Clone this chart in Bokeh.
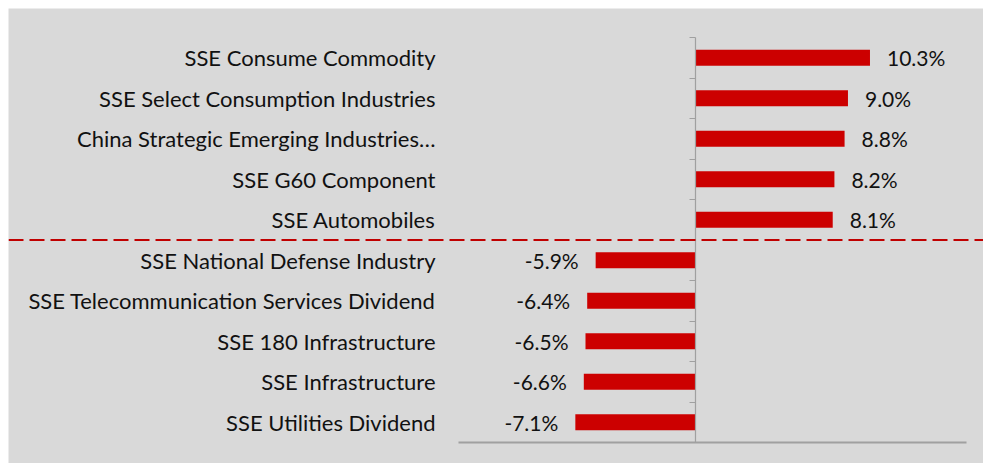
from bokeh.plotting import figure
from bokeh.models import ColumnDataSource, Span, LinearAxis, FixedTicker, Range1d
from bokeh.core.properties import value
from bokeh.embed import file_html
from bokeh.resources import INLINE

categories = [
    "SSE Consume Commodity",
    "SSE Select Consumption Industries",
    "China Strategic Emerging Industries\u2026",
    "SSE G60 Component",
    "SSE Automobiles",
    "SSE National Defense Industry",
    "SSE Telecommunication Services Dividend",
    "SSE 180 Infrastructure",
    "SSE Infrastructure",
    "SSE Utilities Dividend",
]
values = [10.3, 9.0, 8.8, 8.2, 8.1, -5.9, -6.4, -6.5, -6.6, -7.1]
value_labels = [f"{v:.1f}%" for v in values]
n_top = 5  # dashed divider after the first five (gainers)

# layout constants (pixels)
W, H = 983, 463
PAD = 8                            # white margin at top/left
FW, FH = W - PAD, H - PAD          # gray frame size
AX_MIN, AX_MAX = -14, 16           # visible value axis span
AX_LEFT_PX, AX_RIGHT_PX = 450, 958 # within the frame
TOP_PX, BOT_PX = 29, 21            # category block inset (top, bottom)

ppu = (AX_RIGHT_PX - AX_LEFT_PX) / (AX_MAX - AX_MIN)
x_start = AX_MIN - AX_LEFT_PX / ppu
x_end = AX_MAX + (FW - AX_RIGHT_PX) / ppu

FONT = "Lato"
BG = "#d9d9d9"
RED = "#cc0000"
GRAY = "#a0a0a0"

N = len(categories)
ppy = (FH - TOP_PX - BOT_PX) / N
y_start = -BOT_PX / ppy
y_end = N + TOP_PX / ppy
ys = [N - i - 0.5 for i in range(N)]

src = ColumnDataSource(dict(
    y=ys,
    v=values,
    lab=value_labels,
    cat=categories,
    align=["left" if v >= 0 else "right" for v in values],
    xoff=[17 if v >= 0 else -17 for v in values],
    catx=[AX_MIN] * N,
))

p = figure(width=W, height=H, output_backend="svg", toolbar_location=None,
           x_range=Range1d(x_start, x_end), y_range=Range1d(y_start, y_end),
           x_axis_type=None, y_axis_type=None,
           min_border_left=PAD, min_border_right=0,
           min_border_top=PAD, min_border_bottom=0)
p.background_fill_color = BG
p.border_fill_color = "white"
p.outline_line_color = None
p.grid.visible = False

p.hbar(y="y", left=0, right="v", height=0.39, source=src,
       fill_color=RED, line_color=None)

p.text(x="v", y="y", text="lab", source=src, x_offset="xoff",
       text_align="align", text_baseline="middle",
       text_font=value(FONT), text_font_size="21px", text_color="#111111")

p.text(x="catx", y="y", text="cat", source=src, x_offset=-23,
       text_align="right", text_baseline="middle",
       text_font=value(FONT), text_font_size="22px", text_color="#111111")

# bottom axis line
p.segment(x0=[AX_MIN], x1=[AX_MAX], y0=[0], y1=[0],
          line_color=GRAY, line_width=2)

# zero axis with ticks at category boundaries
zax = LinearAxis(fixed_location=0, bounds=(0, N),
                 ticker=FixedTicker(ticks=list(range(N + 1))))
zax.axis_line_color = GRAY
zax.axis_line_width = 1.2
zax.major_tick_line_color = GRAY
zax.major_tick_out = 6
zax.major_tick_in = 0
zax.minor_tick_line_color = None
zax.major_label_text_font_size = "0px"
zax.major_label_text_color = None
p.add_layout(zax, "left")

p.add_layout(Span(location=N - n_top, dimension="width",
                  line_color="#c00000", line_width=2, line_dash="15 6"))

open("out.html", "w").write(file_html(p, INLINE))
